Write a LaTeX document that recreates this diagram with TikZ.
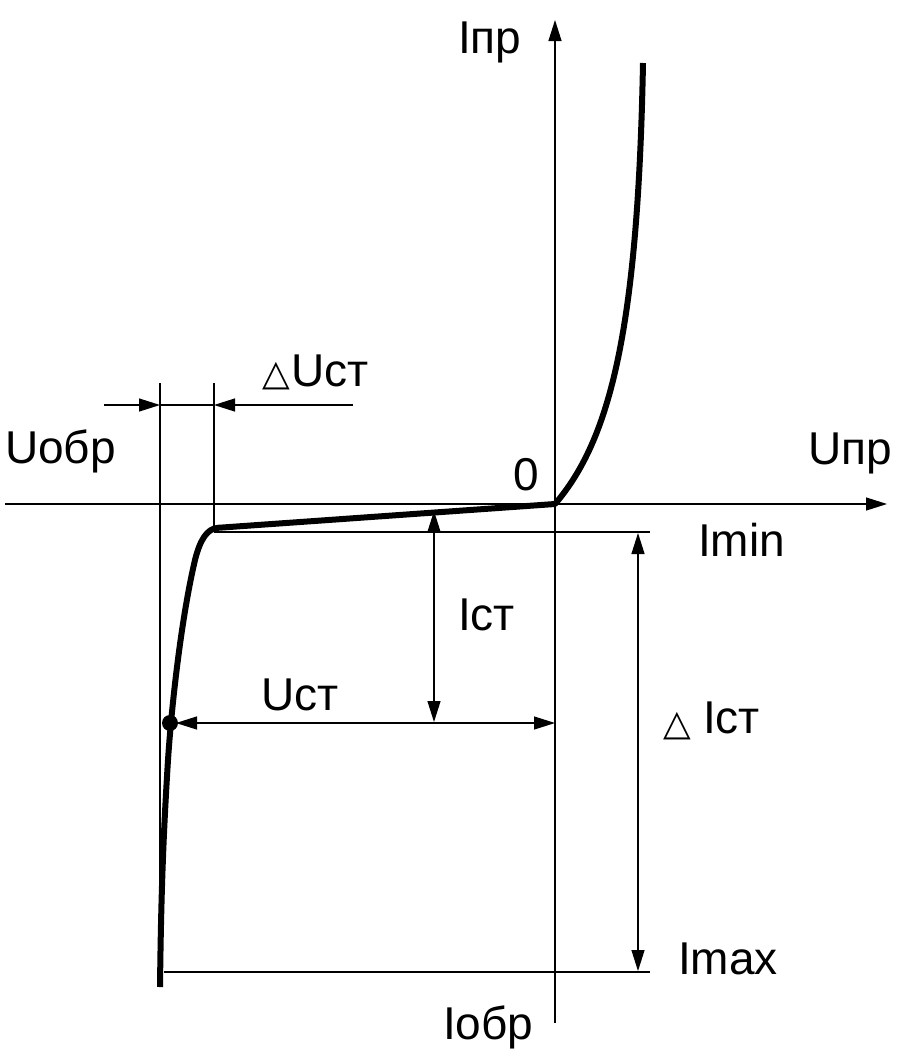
\documentclass[tikz,border=0pt]{standalone}
\usepackage{fontspec}
\setmainfont{Liberation Sans}
\newfontfamily\symfont{DejaVu Sans}
\usetikzlibrary{arrows.meta}
\tikzset{
  thin line/.style={line width=1.3pt, black},
  thick curve/.style={line width=6pt, black, line join=round},
  tipA/.style={-{Triangle[length=21pt,width=13pt]}},
  tipB/.style={{Triangle[length=21pt,width=13pt]}-{Triangle[length=21pt,width=13pt]}},
  lbl/.style={anchor=base west, inner sep=0pt, font=\fontsize{46}{54}\selectfont},
  tri/.style={anchor=base west, inner sep=0pt, font=\symfont\fontsize{36}{40}\selectfont},
}
\begin{document}
\begin{tikzpicture}[x=1pt,y=-1pt]
\useasboundingbox (0,0) rectangle (899,1050);
% key coordinates
\coordinate (O) at (555,504);
\coordinate (xL) at (5,504);
\coordinate (xR) at (887,504);
\coordinate (yB) at (555,1023);
\coordinate (yT) at (555,20);
\coordinate (corner) at (214,528);
\coordinate (dot) at (170,723);
% axes
\draw[thin line, tipA] (xL) -- (xR);
\draw[thin line, tipA] (yB) -- (yT);
% extension lines
\draw[thin line] (160,383) -- (160,987);
\draw[thin line] (214,383) -- (corner);
\draw[thin line] (214,532) -- (650,532);
\draw[thin line] (164,972) -- (650,972);
% delta U dimension
\coordinate (dL) at (104,405);
\coordinate (dA) at (160,405);
\coordinate (dB) at (214,405);
\coordinate (dR) at (353,405);
\draw[thin line] (dA) -- (dB);
\draw[thin line, tipA] (dL) -- (dA);
\draw[thin line, tipA] (dR) -- (dB);
% dimension arrows
\draw[thin line, tipB] (434,511) -- (434,722);
\draw[thin line, tipB] (176,723) -- (555,723);
\draw[thin line, tipB] (638,533) -- (638,971);
% characteristic
\draw[thick curve] (643,63) .. controls (638,330) and (610,440) .. (O)
  -- (218,527.8) .. controls (207,528.5) and (200,540) .. (195,560)
  .. controls (182,615) and (172,700) .. (168,760)
  .. controls (163,840) and (161,900) .. (160,987);
\fill (dot) circle (8pt);
% labels
\node[lbl] (Ipr) at (458,53) {Iпр};
\node[lbl] (Uobr) at (5,463) {Uобр};
\node[lbl] (Upr) at (808,464) {Uпр};
\node[lbl] (zero) at (513,490) {0};
\node[lbl] (Imin) at (698,556) {Imin};
\node[lbl] (Ist) at (458,630) {Iст};
\node[lbl] (Ust) at (261,710) {Uст};
\node[tri] (t1) at (262,385) {△};
\node[lbl] (dUst) at (291,386) {Uст};
\node[tri] (t2) at (663,735) {△};
\node[lbl] (dIst) at (703,733) {Iст};
\node[lbl] (Imax) at (678,974) {Imax};
\node[lbl] (Iobr) at (443,1039) {Iобр};
\end{tikzpicture}
\end{document}
